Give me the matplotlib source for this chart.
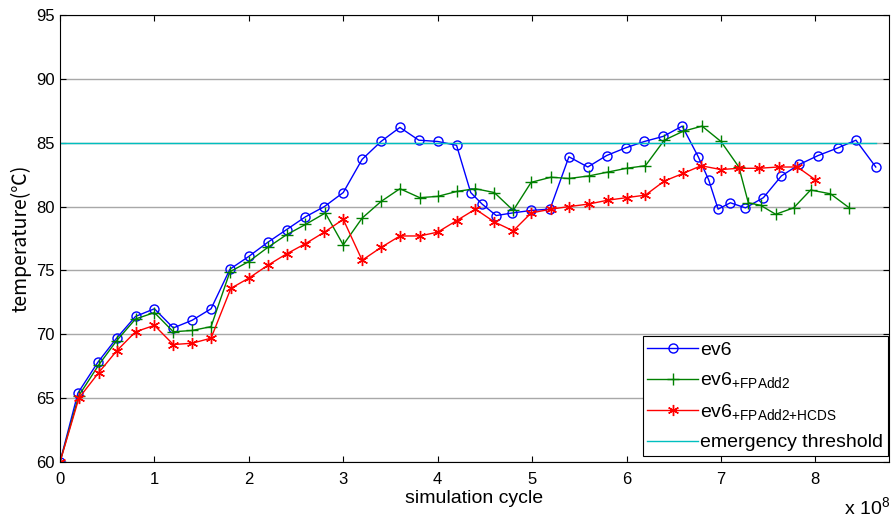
"""Temperature vs simulation cycle for ev6 and its FPAdd2 / HCDS variants (MATLAB-style figure)."""

import numpy as np
import matplotlib
matplotlib.use("Agg")
from matplotlib import pyplot as plt
from matplotlib.ticker import FuncFormatter

# x values in units of 1e8 simulation cycles
ev6_x = [0, 0.19, 0.40, 0.60, 0.80, 1.00, 1.20, 1.40, 1.60, 1.80, 2.00, 2.20, 2.40, 2.60, 2.80,
         3.00, 3.20, 3.40, 3.60, 3.80, 4.00, 4.20, 4.35, 4.47, 4.62, 4.79, 4.99, 5.19, 5.39, 5.59,
         5.79, 5.99, 6.19, 6.39, 6.59, 6.76, 6.87, 6.97, 7.10, 7.26, 7.45, 7.64, 7.83, 8.03, 8.24,
         8.43, 8.64]
ev6_t = [60.0, 65.4, 67.8, 69.7, 71.4, 72.0, 70.5, 71.1, 72.0, 75.1, 76.1, 77.2, 78.2, 79.2, 80.0,
         81.1, 83.7, 85.1, 86.2, 85.2, 85.1, 84.8, 81.1, 80.2, 79.3, 79.5, 79.7, 79.8, 83.9, 83.1,
         84.0, 84.6, 85.1, 85.5, 86.3, 83.9, 82.1, 79.8, 80.3, 79.9, 80.7, 82.4, 83.3, 84.0, 84.6,
         85.2, 83.1]

fp_x = [0, 0.20, 0.41, 0.60, 0.80, 1.00, 1.20, 1.40, 1.60, 1.80, 2.00, 2.20, 2.40, 2.60, 2.81,
        3.00, 3.20, 3.40, 3.60, 3.81, 4.00, 4.21, 4.40, 4.60, 4.80, 4.99, 5.20, 5.39, 5.60, 5.80,
        6.00, 6.20, 6.40, 6.60, 6.80, 7.00, 7.19, 7.29, 7.42, 7.58, 7.77, 7.95, 8.16, 8.36]
fp_t = [60.0, 65.2, 67.6, 69.5, 71.2, 71.7, 70.2, 70.3, 70.6, 74.9, 75.7, 76.8, 77.8, 78.6, 79.5,
        77.0, 79.1, 80.4, 81.4, 80.7, 80.8, 81.2, 81.4, 81.1, 79.7, 81.9, 82.3, 82.2, 82.4, 82.7,
        83.0, 83.2, 85.2, 85.9, 86.3, 85.1, 83.1, 80.3, 80.1, 79.4, 79.9, 81.3, 81.0, 79.9]

hcds_x = [0, 0.20, 0.41, 0.60, 0.80, 1.00, 1.20, 1.40, 1.60, 1.81, 2.00, 2.20, 2.40, 2.60, 2.80,
          3.00, 3.20, 3.40, 3.60, 3.81, 4.00, 4.20, 4.40, 4.60, 4.80, 4.99, 5.20, 5.39, 5.60, 5.80,
          6.00, 6.20, 6.40, 6.60, 6.79, 7.00, 7.19, 7.40, 7.61, 7.81, 8.00]
hcds_t = [60.0, 65.0, 67.0, 68.7, 70.2, 70.7, 69.2, 69.3, 69.7, 73.6, 74.4, 75.4, 76.3, 77.1, 78.0,
          79.0, 75.8, 76.8, 77.7, 77.7, 78.0, 78.9, 79.8, 78.8, 78.1, 79.5, 79.8, 80.0, 80.2, 80.5,
          80.7, 80.9, 82.0, 82.6, 83.2, 82.9, 83.0, 83.0, 83.1, 83.1, 82.1]

threshold_x = [0, 8.64]
threshold_t = [85, 85]

SCALE = 1e8

plt.rcParams.update({
    "font.family": ["Liberation Sans", "DejaVu Sans"],
    "mathtext.default": "regular",
})

fig = plt.figure(figsize=(8.94, 5.2), dpi=100)
ax = fig.add_axes([0.0671, 0.1115, 0.9273, 0.8596])

ax.plot(np.array(ev6_x) * SCALE, ev6_t, color="#0000ff", linewidth=1.0, marker="o",
        markersize=6.5, markerfacecolor="none", markeredgewidth=1.0, label="ev6")
ax.plot(np.array(fp_x) * SCALE, fp_t, color="#008000", linewidth=1.0, marker="+",
        markersize=8, markeredgewidth=1.0, label=r"ev6$_{\mathregular{+FPAdd2}}$")
ax.plot(np.array(hcds_x) * SCALE, hcds_t, color="#ff0000", linewidth=1.0, marker=(6, 2, 0),
        markersize=8, markeredgewidth=1.0, label=r"ev6$_{\mathregular{+FPAdd2{+}HCDS}}$")
ax.plot(np.array(threshold_x) * SCALE, threshold_t, color="#00bfbf", linewidth=1.0,
        label="emergency threshold")

ax.set_xlim(0, 8.78 * SCALE)
ax.set_ylim(60, 95)
ax.set_xticks(np.arange(0, 9) * SCALE)
ax.set_yticks(np.arange(60, 96, 5))
ax.xaxis.set_major_formatter(FuncFormatter(lambda v, p: f"{v / SCALE:g}"))
ax.grid(True, axis="y", color="#a8a8a8", linestyle="-", linewidth=1.0)
ax.set_axisbelow(True)
ax.tick_params(axis="both", direction="in", length=4, width=0.8, labelsize=12,
               top=True, right=True)
ax.tick_params(axis="x", pad=7.5)
ax.tick_params(axis="y", pad=4)
for s in ax.spines.values():
    s.set_linewidth(0.8)

ax.set_xlabel("simulation cycle", fontsize=14, labelpad=2)
ax.set_ylabel("temperature(℃)", fontsize=14, labelpad=3,
              family=["Noto Sans CJK SC", "DejaVu Sans"])
fig.text(0.970, 0.004, r"x 10$^{8}$", fontsize=14, ha="center", va="bottom")

leg = ax.legend(loc="lower right", bbox_to_anchor=(0.9985, 0.013), borderaxespad=0,
                fontsize=14, handlelength=2.6, handletextpad=0.1, labelspacing=0.6,
                fancybox=False, framealpha=1, edgecolor="black", borderpad=0.25)
leg.get_frame().set_linewidth(0.8)

fig.savefig("out.png", dpi=100)
